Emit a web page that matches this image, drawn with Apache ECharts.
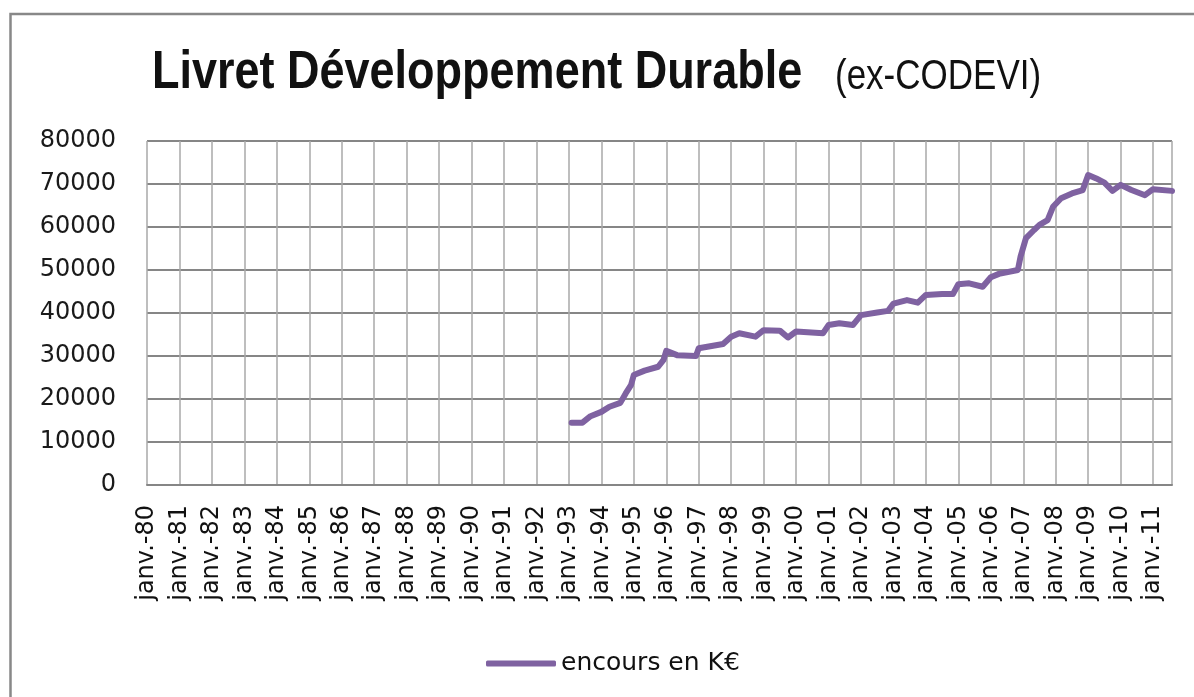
<!DOCTYPE html>
<html>
<head>
	<meta charset="utf-8">
	<title>Livret Développement Durable</title>
	<script type="text/javascript" src="https://cdn.jsdelivr.net/npm/echarts@6/dist/echarts.min.js"></script>
	<style>
		html, body { margin: 0; padding: 0; background: #fff; }
	</style>
</head>
<body>
<div id="ldd" style="width:1194px;height:697px;"></div>
<script type="text/javascript">
// encours mensuel (points de cassure de la courbe)
var months = ['1993-02','1993-06','1993-09','1994-01','1994-04','1994-08','1994-10','1994-12',
	'1995-01','1995-05','1995-10','1995-12','1996-01','1996-05','1996-12','1997-01','1997-10',
	'1998-01','1998-04','1998-10','1999-01','1999-07','1999-10','2000-01','2000-11','2001-01',
	'2001-05','2001-10','2002-01','2002-07','2002-11','2003-01','2003-06','2003-10','2004-01',
	'2004-07','2004-11','2005-01','2005-05','2005-10','2006-01','2006-04','2006-11','2006-12',
	'2007-02','2007-05','2007-07','2007-10','2007-12','2008-03','2008-07','2008-11','2009-01',
	'2009-04','2009-07','2009-10','2010-01','2010-05','2010-10','2011-01','2011-08'];
var encours = [14500,14500,16000,17000,18200,19100,21300,23300,
	25600,26600,27500,29100,31200,30200,30000,31800,32800,
	34500,35300,34500,36000,35900,34300,35700,35300,37200,
	37600,37200,39500,40100,40500,42200,43000,42400,44200,
	44400,44400,46700,46900,46100,48300,49100,50000,53100,
	57400,59300,60500,61600,64700,66700,67800,68600,72100,
	71300,70300,68400,69800,68600,67400,68800,68400];
var firstYear = 1980, lastYear = 2011;
var yTicks = [0, 80000, 10000];

function toYear(s) {
	var p = s.split('-');
	return +p[0] + (+p[1] - 1) / 12;
}

var points = months.map(function (m, i) { return [toYear(m), encours[i]]; });

var myChart = echarts.init(document.getElementById('ldd'));
var font = "'DejaVu Sans', sans-serif";
var titleFont = "'Liberation Sans', Arial, sans-serif";

option = {
	backgroundColor: '#fff',
	animation: false,
	legend: {
		left: 481,
		top: 646,
		icon: 'roundRect',
		itemWidth: 70,
		itemHeight: 6,
		itemGap: 5,
		data: ['encours en K€'],
		textStyle: { fontFamily: font, fontSize: 25, color: '#111' }
	},
	grid: { left: 147, right: 22, top: 141, bottom: 212 },
	xAxis: {
		type: 'value',
		min: firstYear,
		max: 2011 + 7 / 12,
		interval: 1,
		axisLine: { lineStyle: { color: '#868686', width: 2 } },
		axisTick: { show: false },
		splitLine: { show: true, lineStyle: { color: '#a9a9a9', width: 1.5 } },
		axisLabel: {
			rotate: 90,
			margin: 20,
			showMaxLabel: false,
			fontFamily: font,
			fontSize: 24,
			color: '#111',
			formatter: function (v) {
				var y = Math.round(v);
				if (Math.abs(v - y) > 0.001 || y > lastYear) return '';
				return 'janv.-' + String(y % 100).padStart(2, '0');
			}
		}
	},
	yAxis: {
		type: 'value',
		min: yTicks[0],
		max: yTicks[1],
		interval: yTicks[2],
		axisLine: { show: false },
		axisTick: { show: false },
		splitLine: { lineStyle: { color: '#868686', width: 2 } },
		axisLabel: {
			margin: 31, fontFamily: font, fontSize: 24, color: '#1a1a1a',
			formatter: function (v) { return String(v); }
		}
	},
	graphic: [{
		type: 'rect',
		shape: { x: 10.5, y: 14, width: 1200, height: 700 },
		style: { fill: 'none', stroke: '#888', lineWidth: 2.5 }
	}, {
		// titre étiré verticalement comme dans l'original
		type: 'text',
		x: 152, y: 73,
		originX: 152, originY: 0,
		scaleY: 1.2,
		style: {
			text: 'Livret Développement Durable',
			font: 'bold 45px ' + titleFont,
			fill: '#111',
			align: 'left',
			verticalAlign: 'middle'
		}
	}, {
		type: 'text',
		x: 835, y: 77,
		scaleY: 1.2,
		style: {
			text: '(ex-CODEVI)',
			font: '35px ' + titleFont,
			fill: '#111',
			align: 'left',
			verticalAlign: 'middle'
		}
	}],
	series: [{
		name: 'encours en K€',
		type: 'line',
		data: points,
		symbol: 'none',
		itemStyle: { color: '#7f62a1' },
		lineStyle: { color: '#7f62a1', width: 6, cap: 'round', join: 'round' }
	}]
};

myChart.setOption(option);
</script>
</body>
</html>
